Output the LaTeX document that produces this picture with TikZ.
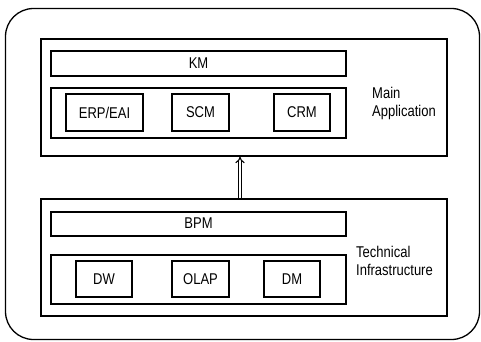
\documentclass[tikz,border=0pt]{standalone}
\usepackage{fontspec}
\usepackage{graphicx}
\setmainfont{Liberation Sans}
\usetikzlibrary{arrows.meta}
\newcommand\tallt[1]{\scalebox{1}[1.2]{#1}}
\begin{document}
\begin{tikzpicture}[x=1pt,y=-1pt,
  box/.style={draw,line width=1.6pt,rectangle,inner sep=0pt},
  lbl/.style={font=\fontsize{13}{15}\selectfont},
  side/.style={font=\fontsize{13}{15}\selectfont,anchor=base west,inner sep=0pt}]
\useasboundingbox (0,0) rectangle (481,342);
% outer frame
\node[draw,line width=1.3pt,rounded corners=28pt,minimum width=474pt,minimum height=331pt,inner sep=0pt] (frame) at (242.5,174) {};
% main application
\node[box,minimum width=406pt,minimum height=117pt] (main) at (244,97.5) {};
\node[box,minimum width=295pt,minimum height=25pt,lbl] (km) at (198.5,63.5) {\raisebox{-3pt}{\tallt{KM}}};
\node[box,minimum width=295pt,minimum height=50pt] (apps) at (198.5,113) {};
\node[box,minimum width=77pt,minimum height=37pt,lbl] (erp) at (104.5,112.5) {\raisebox{-2.5pt}{\tallt{ERP/EAI}}};
\node[box,minimum width=57pt,minimum height=37pt,lbl] (scm) at (200.5,112.5) {\raisebox{-2.5pt}{\tallt{SCM}}};
\node[box,minimum width=56pt,minimum height=37pt,lbl] (crm) at (302,112.5) {\raisebox{-2.5pt}{\tallt{CRM}}};
\node[side] (mainlbl) at (372,99) {\tallt{\begin{tabular}[t]{@{}l@{}}Main\\Application\end{tabular}}};
% technical infrastructure
\node[box,minimum width=406pt,minimum height=117pt] (tech) at (244,257.5) {};
\node[box,minimum width=295pt,minimum height=24pt,lbl] (bpm) at (198.5,224) {\raisebox{1.5pt}{\tallt{BPM}}};
\node[box,minimum width=295pt,minimum height=49pt] (tools) at (198.5,279.5) {};
\node[box,minimum width=56pt,minimum height=36pt,lbl] (dw) at (104,279) {\raisebox{-2.5pt}{\tallt{DW}}};
\node[box,minimum width=57pt,minimum height=36pt,lbl] (olap) at (200.5,279) {\raisebox{-2.5pt}{\tallt{OLAP}}};
\node[box,minimum width=56pt,minimum height=36pt,lbl] (dm) at (292,279) {\raisebox{-2.5pt}{\tallt{DM}}};
\node[side,font=\fontsize{13}{15.8}\selectfont] (techlbl) at (356,257) {\tallt{\begin{tabular}[t]{@{}l@{}}Technical\\Infrastructure\end{tabular}}};
% arrow
\draw[double,double distance=2pt,line width=1.1pt,-{Implies[length=4pt,width=8pt]}] (tech.north -| 240,0) -- (main.south -| 240,0);
\end{tikzpicture}
\end{document}
